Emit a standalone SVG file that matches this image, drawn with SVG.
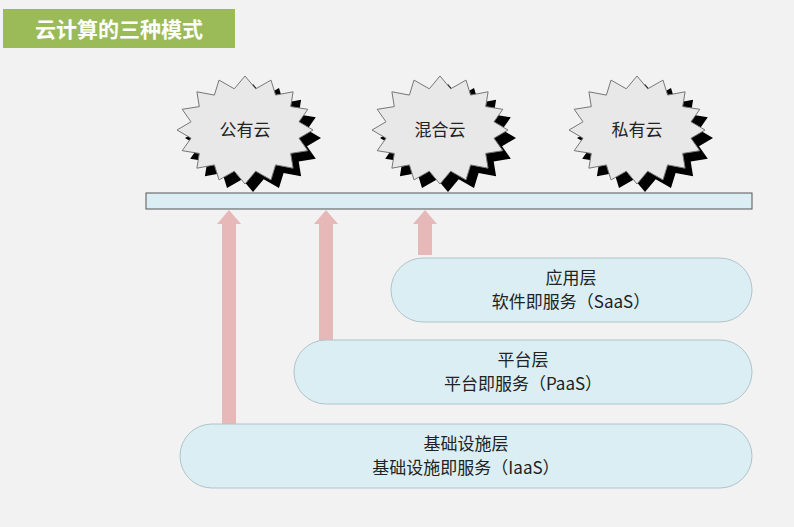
<svg xmlns="http://www.w3.org/2000/svg" width="794" height="527" viewBox="0 0 794 527">
<style>
text{font-family:"Noto Sans CJK SC","Liberation Sans",sans-serif;fill:#222;text-anchor:middle}
.lbl{font-size:17px}
.layer{fill:#daeef3;stroke:#b0c4c8;stroke-width:1}
.arr{fill:#e6b9b8}
</style>
<defs>
<polygon id="star" points="68,0 54,8.2 62.8,20.7 45.7,23.4 48.1,38.2 30.6,34.9 26,49.9 10.7,41.2 0,54 -10.7,41.2 -26,49.9 -30.6,34.9 -48.1,38.2 -45.7,23.4 -62.8,20.7 -54,8.2 -68,0 -54,-8.2 -62.8,-20.7 -45.7,-23.4 -48.1,-38.2 -30.6,-34.9 -26,-49.9 -10.7,-41.2 0,-54 10.7,-41.2 26,-49.9 30.6,-34.9 48.1,-38.2 45.7,-23.4 62.8,-20.7 54,-8.2"/>
</defs>
<rect width="794" height="527" fill="#f2f2f2"/>
<g id="title">
<rect x="3" y="9" width="232" height="39" fill="#9bbb59"/>
<text x="119" y="37" style="font-size:21px;font-weight:bold;fill:#fff">云计算的三种模式</text>
</g>
<g id="bar"><rect x="146" y="193" width="606" height="16" fill="#daeef3" stroke="#555" stroke-width="1"/></g>
<g id="public">
<use href="#star" transform="translate(253,138)" fill="#000"/>
<use href="#star" transform="translate(245,130)" fill="#e8e8e8" stroke="#777"/>
<text class="lbl" x="245" y="136">公有云</text>
</g>
<g id="hybrid">
<use href="#star" transform="translate(448,138)" fill="#000"/>
<use href="#star" transform="translate(440,130)" fill="#e8e8e8" stroke="#777"/>
<text class="lbl" x="440" y="136">混合云</text>
</g>
<g id="private">
<use href="#star" transform="translate(645,138)" fill="#000"/>
<use href="#star" transform="translate(637,130)" fill="#e8e8e8" stroke="#777"/>
<text class="lbl" x="637" y="136">私有云</text>
</g>
<g id="connectors">
<polygon class="arr" points="222,424 236,424 236,224 241,224 229,210 217,224 222,224"/>
<polygon class="arr" points="319,340 333,340 333,224 338,224 326,210 314,224 319,224"/>
<polygon class="arr" points="418,255 432,255 432,224 437,224 425,210 413,224 418,224"/>
</g>
<g id="saas">
<rect class="layer" x="391" y="258" width="361" height="64" rx="32"/>
<text class="lbl" x="571" y="284">应用层</text>
<text class="lbl" x="571" y="308">软件即服务（SaaS）</text>
</g>
<g id="paas">
<rect class="layer" x="294" y="340" width="458" height="64" rx="32"/>
<text class="lbl" x="523" y="366">平台层</text>
<text class="lbl" x="523" y="390">平台即服务（PaaS）</text>
</g>
<g id="iaas">
<rect class="layer" x="180" y="424" width="572" height="64" rx="32"/>
<text class="lbl" x="466" y="450">基础设施层</text>
<text class="lbl" x="466" y="474">基础设施即服务（IaaS）</text>
</g>
</svg>
